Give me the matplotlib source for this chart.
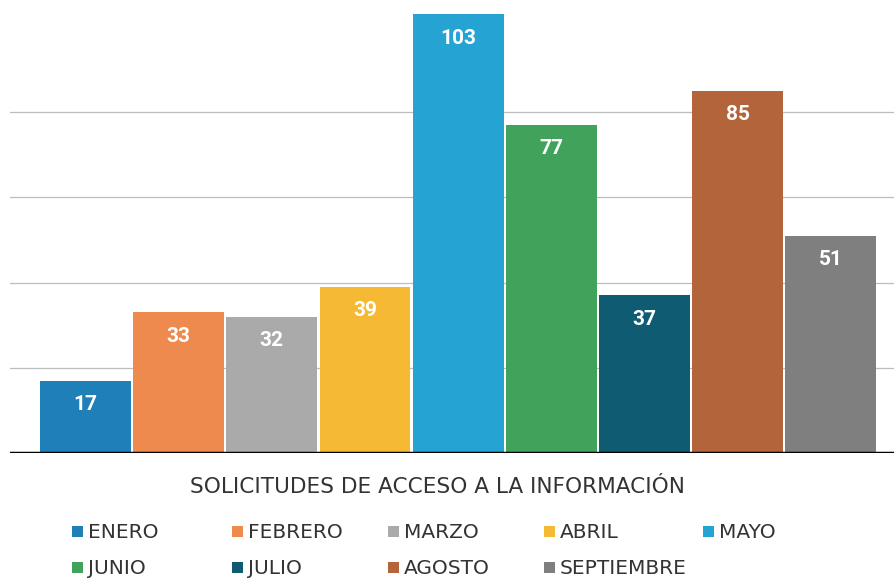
import matplotlib.pyplot as plt
from matplotlib.patches import Rectangle

# data
meses = ['ENERO', 'FEBRERO', 'MARZO', 'ABRIL', 'MAYO',
         'JUNIO', 'JULIO', 'AGOSTO', 'SEPTIEMBRE']
solicitudes = [17, 33, 32, 39, 103, 77, 37, 85, 51]
colores = ['#1f7fb8', '#ee8a4e', '#aaaaaa', '#f5b933', '#25a4d3',
           '#41a35b', '#0f5b72', '#b3643b', '#7f7f7f']
titulo = 'SOLICITUDES DE ACCESO A LA INFORMACIÓN'

W, H = 895, 585
fig = plt.figure(figsize=(W / 100, H / 100), dpi=100)

# axes: left edge at x=10 px, baseline at y=453 px, top at figure top
ax = fig.add_axes([10 / W, (H - 453) / H, (W - 10) / W, 453 / H])

x = list(range(len(meses)))
bars = ax.bar(x, solicitudes, width=0.975, color=colores, zorder=2)

ax.set_xlim(-0.81, 8.69)
ax.set_ylim(0, 106.3)

# gridlines every 20 (the one at 100 is not visible in the reference)
for g in [20, 40, 60, 80]:
    ax.axhline(g, color='#bdbdbd', lw=0.9, zorder=1)
ax.axhline(0, color='black', lw=2.5, zorder=3)

for s in ax.spines.values():
    s.set_visible(False)
ax.set_xticks([])
ax.set_yticks([])

# value labels inside the top of each bar
for xi, v in zip(x, solicitudes):
    ax.annotate(str(v), (xi, v), xytext=(0, -24), textcoords='offset pixels',
                ha='center', va='center', color='white', fontsize=15,
                fontweight='bold', family='Roboto', zorder=4)

fig.text(437 / W, 1 - 487 / H, titulo, ha='center', va='center',
         fontsize=15.6, color='#333333', family='DejaVu Sans')

# legend, laid out as in the reference (5 columns, row-major)
col_x = [72, 232, 388, 544, 703]
row_y = [532, 568]
for i, (m, c) in enumerate(zip(meses, colores)):
    r, k = divmod(i, 5)
    px, py = col_x[k], row_y[r]
    fig.add_artist(Rectangle((px / W, 1 - (py + 5) / H), 11 / W, 11 / H,
                             transform=fig.transFigure, color=c, lw=0))
    fig.text((px + 16) / W, 1 - py / H, m, ha='left', va='center',
             fontsize=14.5, color='#333333', family='DejaVu Sans')

fig.savefig('out.png', dpi=100)
